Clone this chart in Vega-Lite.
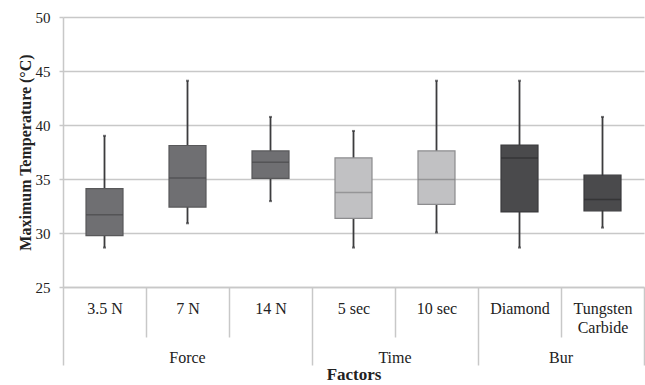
{
  "$schema": "https://vega.github.io/schema/vega-lite/v6.json",
  "width": 581,
  "height": 270,
  "autosize": {"type": "none"},
  "padding": {"left": 63, "top": 17, "right": 1, "bottom": 98},
  "background": "white",
  "config": {
    "view": {"stroke": null},
    "font": "Liberation Serif",
    "axis": {"labelFont": "Liberation Serif", "titleFont": "Liberation Serif", "labelColor": "#222222", "titleColor": "#222222"}
  },
  "data": {
    "values": [
      {"cat": "3.5 N", "group": "Force", "min": 28.65, "q1": 29.75, "median": 31.7, "q3": 34.1, "max": 39.0},
      {"cat": "7 N", "group": "Force", "min": 30.9, "q1": 32.4, "median": 35.1, "q3": 38.1, "max": 44.1},
      {"cat": "14 N", "group": "Force", "min": 32.95, "q1": 35.05, "median": 36.55, "q3": 37.6, "max": 40.75},
      {"cat": "5 sec", "group": "Time", "min": 28.65, "q1": 31.35, "median": 33.75, "q3": 36.95, "max": 39.45},
      {"cat": "10 sec", "group": "Time", "min": 30.05, "q1": 32.65, "median": 34.95, "q3": 37.6, "max": 44.1},
      {"cat": "Diamond", "group": "Bur", "min": 28.65, "q1": 31.95, "median": 36.95, "q3": 38.15, "max": 44.1},
      {"cat": "Tungsten Carbide", "group": "Bur", "min": 30.5, "q1": 32.05, "median": 33.1, "q3": 35.35, "max": 40.75}
    ]
  },
  "resolve": {"axis": {"x": "independent"}},
  "layer": [
    {
      "mark": {"type": "rule", "color": "#3c3c3e", "strokeWidth": 1.8},
      "encoding": {
        "x": {
          "field": "cat",
          "type": "nominal",
          "sort": null,
          "scale": {"paddingInner": 0, "paddingOuter": 0},
          "axis": {
            "title": null,
            "orient": "bottom",
            "labelAngle": 0,
            "labelFontSize": 16,
            "labelBaseline": "top",
            "labelLineHeight": 19,
            "labelPadding": {"condition": {"test": "indexof(['3.5 N', '7 N', '5 sec', 'Diamond'], datum.value) >= 0", "value": -37}, "value": -65},
            "labelExpr": "datum.value == 'Tungsten Carbide' ? ['Tungsten', 'Carbide'] : datum.label",
            "tickBand": "extent",
            "tickColor": "#c8c8c8",
            "tickWidth": 1.5,
            "tickSize": {"condition": {"test": "indexof(['3.5 N', '7 N', '5 sec', 'Diamond'], datum.value) >= 0", "value": 50}, "value": 78},
            "domainColor": "#c8c8c8",
            "domainWidth": 1.5,
            "grid": false
          }
        },
        "y": {
          "field": "min",
          "type": "quantitative",
          "scale": {"domain": [25, 50], "nice": false, "zero": false},
          "axis": {
            "title": "Maximum Temperature (°C)",
            "titleFontSize": 16,
            "titleFontWeight": "bold",
            "titlePadding": 2,
            "labelFontSize": 15,
            "labelPadding": 9,
            "values": [25, 30, 35, 40, 45, 50],
            "tickSize": 4,
            "tickColor": "#c8c8c8",
            "tickWidth": 1.5,
            "domainColor": "#c8c8c8",
            "domainWidth": 1.5,
            "gridColor": "#c8c8c8",
            "gridWidth": 1.5
          }
        },
        "y2": {"field": "max"}
      }
    },
    {
      "mark": {"type": "bar", "size": 37, "strokeWidth": 1.2},
      "encoding": {
        "x": {
          "field": "cat",
          "type": "nominal",
          "sort": null,
          "axis": {
            "orient": "bottom",
            "values": ["7 N", "5 sec", "Diamond"],
            "labelExpr": "datum.value == '7 N' ? 'Force' : datum.value == '5 sec' ? 'Time' : 'Bur'",
            "labelOffset": {"condition": {"test": "datum.value == '7 N'", "value": 0}, "value": 41.5},
            "labelAngle": 0,
            "labelFontSize": 16,
            "labelBaseline": "top",
            "labelPadding": 62,
            "ticks": false,
            "domain": false,
            "grid": false,
            "title": "Factors",
            "titleFontSize": 17,
            "titleFontWeight": "bold",
            "titlePadding": 1
          }
        },
        "y": {"field": "q1", "type": "quantitative"},
        "y2": {"field": "q3"},
        "fill": {
          "field": "group",
          "type": "nominal",
          "scale": {"domain": ["Force", "Time", "Bur"], "range": ["#6f6f72", "#c1c1c3", "#4a4a4c"]},
          "legend": null
        },
        "stroke": {
          "field": "group",
          "type": "nominal",
          "scale": {"domain": ["Force", "Time", "Bur"], "range": ["#58585a", "#8c8c8e", "#3a3a3c"]},
          "legend": null
        }
      }
    },
    {
      "mark": {"type": "tick", "size": 37, "thickness": 1.5},
      "encoding": {
        "x": {"field": "cat", "type": "nominal", "sort": null, "axis": null},
        "y": {"field": "median", "type": "quantitative"},
        "color": {
          "field": "group",
          "type": "nominal",
          "scale": {"domain": ["Force", "Time", "Bur"], "range": ["#48484a", "#828284", "#2c2c2e"]},
          "legend": null
        }
      }
    },
    {
      "mark": {"type": "tick", "size": 3, "thickness": 2, "color": "#3c3c3e"},
      "encoding": {
        "x": {"field": "cat", "type": "nominal", "sort": null, "axis": null},
        "y": {"field": "min", "type": "quantitative"}
      }
    },
    {
      "mark": {"type": "tick", "size": 3, "thickness": 2, "color": "#3c3c3e"},
      "encoding": {
        "x": {"field": "cat", "type": "nominal", "sort": null, "axis": null},
        "y": {"field": "max", "type": "quantitative"}
      }
    }
  ]
}
